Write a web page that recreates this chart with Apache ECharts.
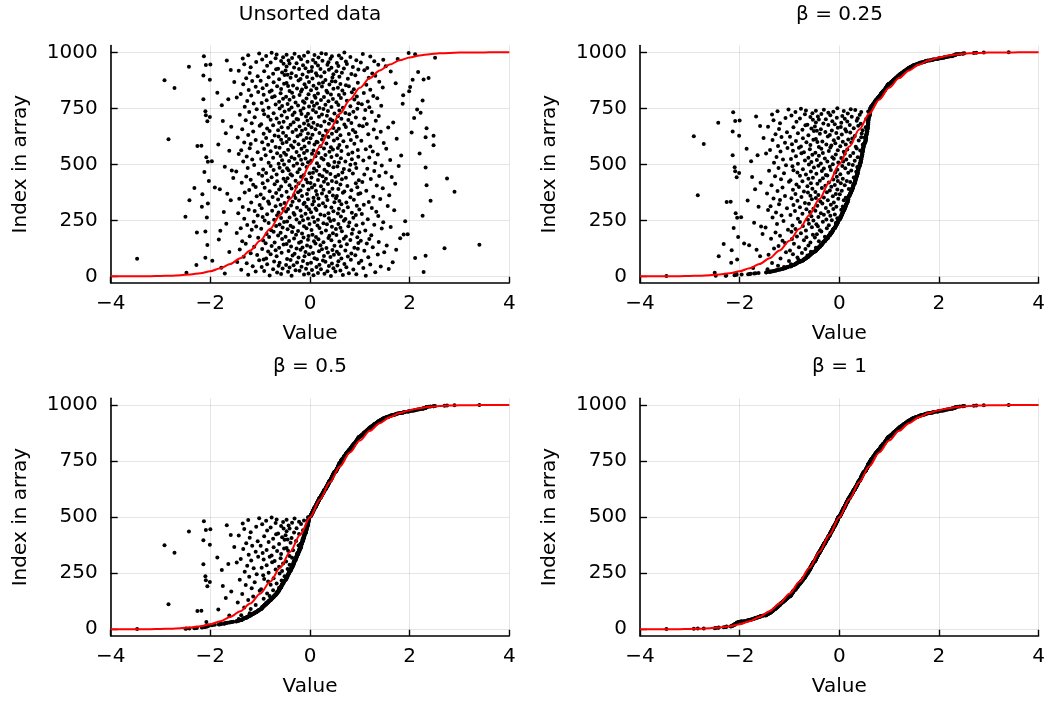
<!DOCTYPE html>
<html>
<head>
<meta charset="utf-8">
<script src="https://cdn.jsdelivr.net/npm/echarts@6/dist/echarts.min.js"></script>
<style>
html,body{margin:0;padding:0;background:#fff;}
#chart{width:1048px;height:701px;}
</style>
</head>
<body>
<div id="chart"></div>
<script>
const unsortedValues = [
 0.42,-0.37,1.12,-0.81,0.07,0.66,-1.24,-0.12,0.93,-0.58,0.29,-1.71,-0.03,0.78,0.16,-2.48,-0.66,1.31,2.28,-0.44,0.51,-1.09,0.35,-0.92,-0.21,
 0.61,-0.29,0.04,-1.38,0.87,-0.74,0.22,1.58,-0.08,-0.55,0.47,1.07,-1.78,-0.41,0.73,-0.97,0.13,-0.17,1.42,-1.15,0.38,-0.63,0.55,-0.33,-2.28,
 -0.48,0.19,1.21,-0.86,0.69,-0.05,0.44,-1.27,0.98,-0.61,0.02,-0.26,1.66,-1.46,0.31,-0.72,0.57,-0.14,1.03,-1.96,0.26,-1.02,-0.39,0.82,-0.93,
 0.14,-0.46,-3.47,0.63,-0.88,0.09,2.11,-2.10,-0.23,1.17,0.41,-1.33,0.76,-0.11,-0.67,0.28,2.32,-0.35,0.91,-1.06,0.48,1.36,-0.02,-0.79,0.58,
 -0.31,0.83,-1.19,0.06,-0.57,0.36,1.49,-0.09,-1.62,0.54,-0.84,0.18,-0.43,1.09,0.71,-0.69,0.45,-0.19,1.73,-1.41,0.24,-0.96,0.96,-0.27,2.70,
 0.33,-0.62,0.89,-0.15,1.26,0.01,-1.12,-0.38,0.62,-0.77,0.49,1.54,-0.06,0.21,-2.06,3.40,-0.53,0.74,-0.47,-1.29,1.14,0.11,-0.89,0.97,-0.22,
 -0.71,0.27,1.38,-0.18,0.59,-1.36,0.08,-0.42,1.02,-0.94,0.43,0.81,-0.04,-1.83,0.17,1.19,-0.56,0.68,-0.32,1.81,0.37,-1.04,-0.13,0.95,-0.82,
 0.12,-0.49,0.72,-1.21,-0.03,0.39,-0.64,1.23,0.53,-0.28,0.05,1.88,1.96,-0.87,0.84,-0.16,0.46,-1.47,-0.59,0.23,-2.27,0.99,-0.36,-0.73,-2.10,
 0.64,-0.24,-1.80,0.32,1.11,-0.78,0.03,-1.17,0.86,-0.45,0.52,-0.98,1.44,-0.07,-1.39,0.19,0.61,-0.55,-0.34,1.62,0.44,-1.08,0.77,-0.12,-0.68,
 -0.39,0.15,0.93,-1.26,1.29,-0.61,0.34,-0.01,0.57,-1.68,1.06,0.27,-0.83,-0.21,0.79,1.47,-0.52,0.09,-1.13,-0.46,1.91,0.41,0.68,-0.91,-0.14,
 0.48,-0.72,0.16,-0.27,1.16,0.71,-1.32,-0.04,0.38,-0.58,0.87,-0.41,-2.07,0.06,-0.95,-2.50,0.62,-0.17,1.37,2.26,0.29,-1.05,-0.66,0.92,-0.31,
 0.21,-0.86,1.04,-0.09,0.56,-1.44,0.37,-0.33,0.84,-0.63,0.02,-1.73,1.33,-0.48,0.47,-1.11,0.67,-0.76,-0.19,1.69,0.13,-1.23,0.99,-0.02,-0.54,
 -0.44,0.58,0.11,-0.97,1.24,-0.26,0.43,0.76,-1.35,-2.17,-0.07,0.31,-0.69,1.56,0.94,-0.38,0.18,-1.01,-0.59,1.08,0.05,0.63,-0.13,-0.82,-2.05,
 0.26,-0.51,-0.11,0.73,-1.18,0.49,1.18,-0.35,-0.84,0.08,0.59,2.42,-0.22,-1.59,-2.42,0.35,0.88,-0.64,-0.04,1.41,-1.42,0.17,0.52,-0.93,-0.29,
 0.07,-0.43,0.81,-0.75,1.27,0.33,-1.07,-0.16,0.54,-0.57,0.46,1.59,-0.32,0.14,-0.99,-2.16,0.97,-0.06,-1.66,0.24,1.01,-0.68,0.66,-1.31,-0.24,
 0.39,2.90,-0.47,0.69,-0.81,0.12,1.13,-0.19,0.83,-1.22,0.27,-0.03,-0.62,-1.81,0.57,0.45,-0.37,1.46,-2.32,-0.91,0.04,-1.91,0.95,-1.09,-0.28,
 -0.58,0.22,0.75,-0.14,1.34,2.34,-0.41,0.09,-1.14,0.61,-0.71,0.36,1.71,-0.23,0.92,-0.95,0.01,-1.37,-0.05,0.53,1.05,0.28,-0.49,-0.66,-2.03,
 0.44,-0.29,-0.85,0.98,0.16,-1.19,-0.08,0.64,1.22,-0.53,0.32,2.75,-0.45,-1.54,0.72,0.03,-0.77,1.64,-0.18,0.51,-1.28,0.25,1.39,-0.96,-0.36,
 -0.13,0.57,0.19,-0.67,1.09,-0.39,0.41,-1.03,0.86,-0.01,-0.88,0.06,1.52,0.65,-0.25,-2.12,0.34,-1.48,-0.55,1.29,0.13,-1.57,0.79,-0.43,-0.73,
 0.29,-0.94,-0.21,0.68,1.15,0.08,-0.46,-1.25,0.93,-0.61,2.32,0.47,-0.07,-1.71,0.55,0.18,-0.79,1.78,-0.33,1.44,0.38,-1.12,0.81,-0.52,-0.15,
 0.36,-0.63,0.91,-0.26,0.14,1.31,-0.83,0.58,-0.04,0.49,-2.05,-1.34,0.71,-1.97,-0.42,0.02,1.07,-0.56,1.61,-0.18,0.27,-1.16,0.84,-0.98,-0.31,
 -0.09,0.62,0.23,-0.74,1.19,-0.37,-2.08,0.43,0.97,-1.27,0.11,-0.59,-0.22,1.83,0.54,-0.89,0.31,-0.48,1.36,0.77,-1.43,0.04,2.20,-0.66,-0.12,
 0.17,-0.52,0.85,-1.05,-0.27,0.39,1.26,-0.79,0.63,-0.06,-1.62,0.07,-1.38,0.96,-0.44,0.46,1.12,-0.92,-0.17,1.53,0.28,-1.21,0.56,-0.61,-0.34,
 0.42,-0.69,0.74,-0.11,1.21,0.21,-2.26,-2.18,-0.38,2.48,0.59,-0.84,-1.84,0.09,-0.23,-1.19,0.89,0.33,-0.55,1.48,-0.02,-1.32,0.15,-0.96,-0.47,
 0.13,-0.31,0.67,-0.76,1.03,0.48,-0.13,-1.09,0.82,-0.58,0.24,-2.84,-0.42,1.74,0.55,0.01,-0.88,-0.07,1.34,-1.45,2.32,0.37,0.94,-0.63,-0.25,
 -0.48,2.48,0.26,-0.71,0.61,-1.24,0.05,-0.19,1.17,0.78,-0.93,0.44,-0.04,-1.69,0.19,-0.54,2.04,0.91,-0.35,1.42,-1.14,0.35,0.53,-0.81,-0.16,
 0.32,-0.64,0.86,-0.28,1.28,0.11,-1.36,-0.09,0.58,-0.86,2.34,0.47,-0.44,1.57,0.03,-0.57,0.72,-1.58,-0.21,1.06,0.22,-1.01,0.99,-0.74,-0.03,
 0.15,-0.39,0.69,-0.98,1.14,0.38,-0.12,-1.17,0.83,-0.62,0.07,1.67,-0.33,0.54,-0.53,0.29,-2.06,-1.75,-0.05,1.32,0.45,-1.29,0.77,-0.79,-0.24,
 0.41,-0.27,0.63,-0.67,1.09,0.02,2.09,-0.46,0.92,-1.11,-2.01,0.18,-0.84,-0.08,0.56,1.38,0.34,-0.57,-2.09,-0.35,-1.41,0.24,0.79,-0.92,-0.17,
 -0.04,0.49,-0.73,0.71,2.22,-0.31,0.12,1.24,-1.22,0.87,-0.51,-2.10,0.36,-0.19,0.59,-0.94,0.06,1.11,-0.42,2.15,-1.07,0.27,0.95,-0.61,-0.13,
 0.19,-0.83,0.66,-0.37,1.19,0.43,-1.31,-0.02,0.81,-0.56,1.43,0.08,-0.24,-1.77,0.57,0.31,-0.69,1.04,-0.45,1.86,0.14,-1.13,0.97,-0.97,-0.11,
 -0.29,0.53,0.04,-0.62,1.16,0.37,-0.14,-1.26,0.74,2.26,-0.87,0.22,-0.41,0.89,-2.14,-1.64,0.46,-0.54,-0.07,1.35,0.62,0.11,-1.47,-0.76,-0.33,
 0.28,-0.48,0.94,-0.71,1.27,0.09,-1.18,1.87,-0.21,0.58,-0.93,0.42,-0.03,-1.39,0.69,0.16,-0.59,1.08,-0.36,-1.86,0.35,0.84,-1.04,-0.81,-0.18,
 1.99,-0.41,0.33,-0.77,0.65,0.02,-1.23,1.21,-0.16,0.88,-0.58,0.47,-0.26,0.13,-0.95,-2.72,0.56,1.46,-0.08,2.01,-1.09,0.24,0.78,-0.66,-0.44,
 0.07,-0.34,0.72,-0.87,1.13,0.39,-0.11,-1.34,0.61,-0.52,0.18,1.72,-0.47,0.96,0.26,-0.73,-1.52,-0.02,1.39,0.51,0.44,-1.16,-0.99,-0.23,-2.92,
 0.31,-2.01,2.06,2.28,-0.62,-0.19,0.76,0.05,-1.28,2.38,-0.39,1.18,0.45,-0.83,-0.06,0.59,0.22,-1.05,-0.28,1.31,0.14,-2.14,0.91,-0.51,-0.45,
 -0.15,0.47,0.83,-0.74,1.25,0.12,-0.37,-1.21,0.64,-0.56,0.29,2.17,-0.03,1.62,-0.92,0.53,0.03,-1.43,-0.49,1.09,-1.59,0.38,0.97,-0.68,-0.22,
 0.21,-0.64,0.68,-0.09,1.15,0.43,-0.32,-1.19,0.86,0.04,-2.43,-0.47,1.52,0.57,-0.86,0.16,-0.14,-2.09,1.37,0.35,-2.00,-1.32,0.74,-0.53,-0.41,
 -0.27,0.54,0.11,-0.79,1.02,0.37,-1.08,-0.05,0.72,1.29,-0.58,0.25,-0.43,-1.67,0.93,0.06,1.47,-0.96,-0.18,1.76,0.41,-1.35,0.63,-0.69,-0.36,
 2.51,0.17,-0.54,0.81,-0.22,1.21,-2.13,0.44,-0.88,-0.12,0.58,-1.24,0.09,-0.47,-0.67,2.11,0.32,1.06,-0.31,-1.02,0.23,1.98,-0.77,0.69,-0.04
];

// Fraction of bubble-sort passes applied in each panel (0 = the unsorted array itself).
const passFractions = [0, 0.25, 0.5, 1];
const panelTitles = ['Unsorted data', 'β = 0.25', 'β = 0.5', 'β = 1'];

// Red reference curve (n · normal CDF) read at steps of 0.2.
const curveX = [-4,-3.8,-3.6,-3.4,-3.2,-3,-2.8,-2.6,-2.4,-2.2,-2,-1.8,-1.6,-1.4,-1.2,-1,-0.8,-0.6,-0.4,-0.2,0,
  0.2,0.4,0.6,0.8,1,1.2,1.4,1.6,1.8,2,2.2,2.4,2.6,2.8,3,3.2,3.4,3.6,3.8,4];
const curveY = [0.03,0.07,0.16,0.34,0.69,1.35,2.56,4.66,8.2,13.9,22.75,35.93,54.8,80.76,115.07,158.66,211.86,274.25,344.58,420.74,500,
  579.26,655.42,725.75,788.14,841.34,884.93,919.24,945.2,964.07,977.25,986.1,991.8,995.34,997.44,998.65,999.31,999.66,999.84,999.93,999.97];

const xTicks = [-4, -2, 0, 2, 4];
const yTicks = [0, 250, 500, 750, 1000];

function bubblePasses(arr, k) {
  const a = arr.slice();
  const n = a.length;
  for (let p = 0; p < k; p++) {
    let swapped = false;
    for (let j = 0; j < n - 1 - p; j++) {
      if (a[j] > a[j + 1]) { const t = a[j]; a[j] = a[j + 1]; a[j + 1] = t; swapped = true; }
    }
    if (!swapped) break;
  }
  return a;
}

const FONT = 'DejaVu Sans';
const grids = [
  {left: 110.7, top: 45.6, width: 398.6, height: 237.2},
  {left: 640, top: 45.6, width: 398.6, height: 237.2},
  {left: 110.7, top: 398.3, width: 398.6, height: 237.5},
  {left: 640, top: 398.3, width: 398.6, height: 237.5}
];
const titlePos = [[310, 14.5], [839.5, 14.5], [310, 367], [839.5, 367]];

const minusFmt = v => (v < 0 ? '\u2212' + (-v) : String(v));

const option = {
  animation: false,
  backgroundColor: '#ffffff',
  textStyle: {fontFamily: FONT},
  grid: grids.map(g => Object.assign({containLabel: false, outerBoundsMode: 'none'}, g)),
  xAxis: grids.map((g, i) => ({
    gridIndex: i, type: 'value', min: -4, max: 4, interval: 2,
    name: 'Value', nameLocation: 'middle', nameGap: 41,
    nameTextStyle: {fontSize: 20, color: '#000', fontFamily: FONT},
    axisLine: {show: true, onZero: false, lineStyle: {color: '#000', width: 1.6}},
    axisTick: {show: true, inside: true, length: 6, lineStyle: {color: '#000', width: 1.4}},
    axisLabel: {fontSize: 20, color: '#000', fontFamily: FONT, margin: 11, formatter: minusFmt, customValues: xTicks},
    splitLine: {show: true, lineStyle: {color: 'rgba(0,0,0,0.1)', width: 1}}
  })),
  yAxis: grids.map((g, i) => ({
    gridIndex: i, type: 'value', min: -29, max: 1030,
    name: 'Index in array', nameLocation: 'middle', nameGap: 80, nameRotate: 90,
    nameTextStyle: {fontSize: 20, color: '#000', fontFamily: FONT},
    axisLine: {show: true, onZero: false, lineStyle: {color: '#000', width: 1.6}},
    axisTick: {show: true, inside: true, length: 7, lineStyle: {color: '#000', width: 1.4}, customValues: yTicks},
    axisLabel: {fontSize: 20, color: '#000', fontFamily: FONT, margin: 13, customValues: yTicks, formatter: v => String(v)},
    splitLine: {show: true, lineStyle: {color: 'rgba(0,0,0,0.1)', width: 1}}
  })),
  graphic: panelTitles.map((t, i) => ({
    type: 'text', x: titlePos[i][0], y: titlePos[i][1],
    style: {text: t, fontSize: 20, fontFamily: FONT, fill: '#000', align: 'center', verticalAlign: 'middle', textAlign: 'center', textVerticalAlign: 'middle'}
  })),
  series: []
};

const n = unsortedValues.length;
passFractions.forEach((f, i) => {
  const arr = bubblePasses(unsortedValues, Math.round(f * n));
  option.series.push({
    type: 'scatter', xAxisIndex: i, yAxisIndex: i,
    symbol: 'circle', symbolSize: 4,
    itemStyle: {color: '#000', opacity: 1},
    silent: true,
    data: arr.map((v, k) => [v, k + 1]),
    z: 2
  });
  option.series.push({
    type: 'line', xAxisIndex: i, yAxisIndex: i,
    showSymbol: false, smooth: 0.3, smoothMonotone: 'x',
    lineStyle: {color: '#ff0000', width: 2},
    silent: true,
    data: curveX.map((x, k) => [x, curveY[k]]),
    z: 3
  });
});

const chart = echarts.init(document.getElementById('chart'), null, {renderer: 'canvas'});
chart.setOption(option);
</script>
</body>
</html>
